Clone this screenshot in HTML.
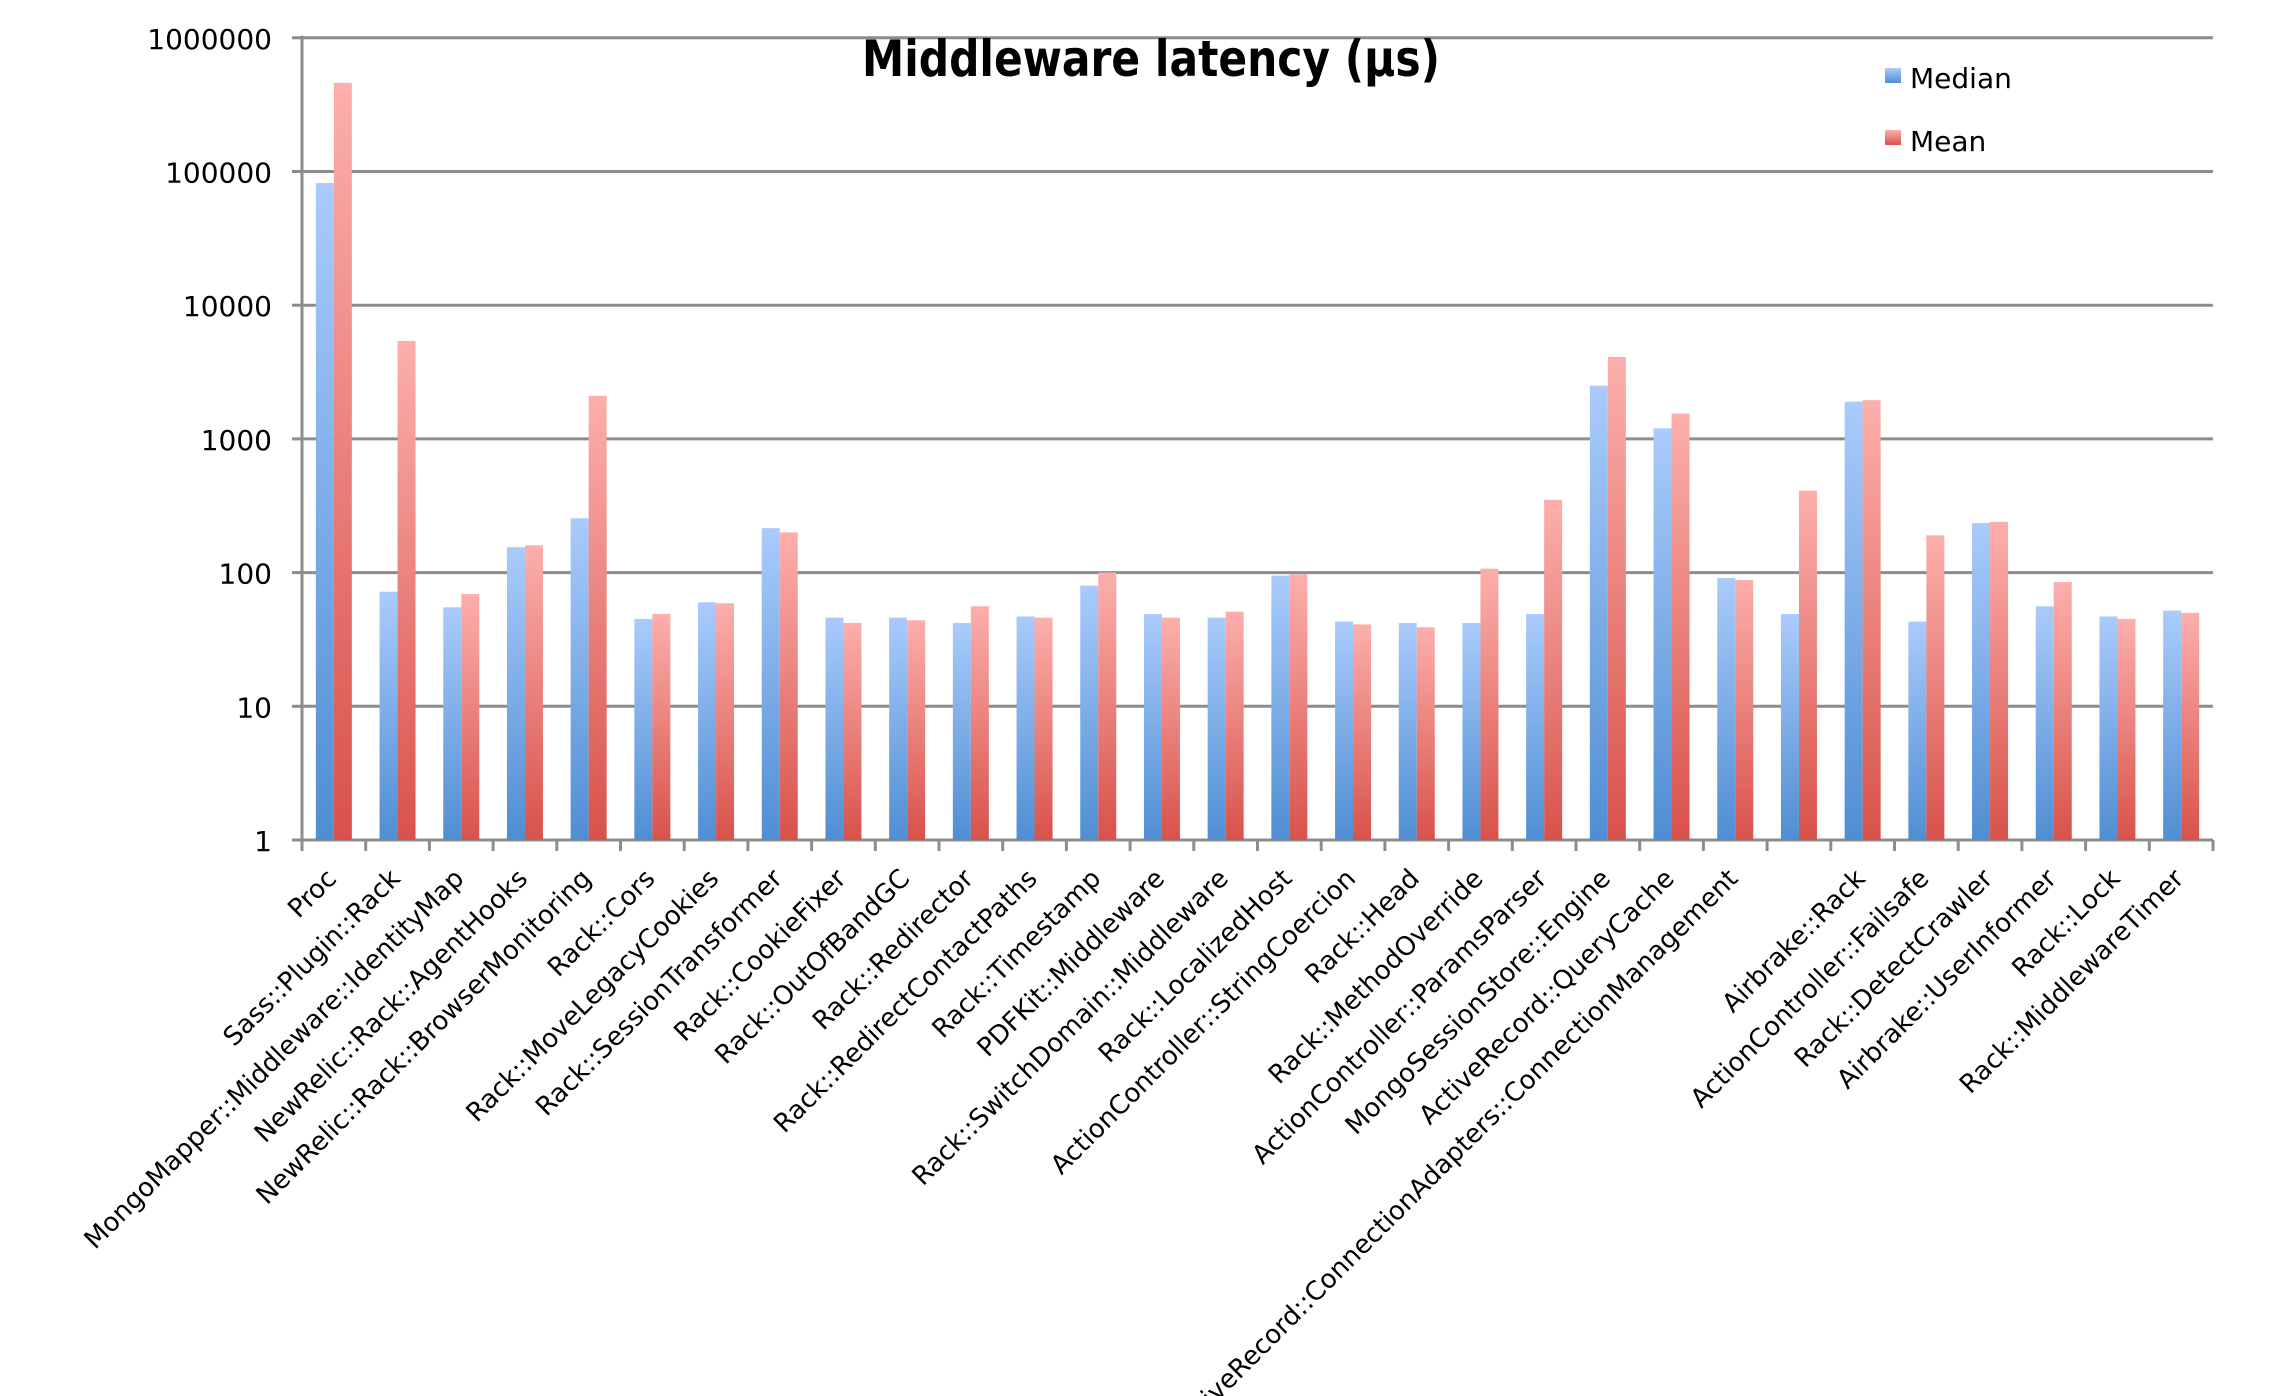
<!DOCTYPE html>
<html><head><meta charset="utf-8"><style>
html,body{margin:0;padding:0;background:#fff;}
svg{display:block;}
</style></head><body>
<svg id="c" width="2278" height="1396" xmlns="http://www.w3.org/2000/svg" font-family="'DejaVu Sans','Liberation Sans',sans-serif">
<defs>
<linearGradient id="gb" x1="0" y1="0" x2="0" y2="1"><stop offset="0" stop-color="#aacbfb"/><stop offset="1" stop-color="#4f8ed3"/></linearGradient>
<linearGradient id="gr" x1="0" y1="0" x2="0" y2="1"><stop offset="0" stop-color="#fcafac"/><stop offset="1" stop-color="#d8524b"/></linearGradient>
</defs>
<g id="grid"></g>
<g id="bars"></g>
<g id="labels" font-size="26" fill="#000"></g>
<text x="1151" y="76" font-size="50" font-weight="bold" text-anchor="middle" textLength="578" lengthAdjust="spacingAndGlyphs" font-family="'DejaVu Sans','Liberation Sans',sans-serif">Middleware latency (µs)</text>
<rect x="1885" y="68" width="16" height="15" fill="url(#gb)"/>
<text x="1910" y="88" font-size="28">Median</text>
<rect x="1885" y="130" width="16" height="15" fill="url(#gr)"/>
<text x="1910" y="151" font-size="28">Mean</text>
</svg>
<script>
var NS="http://www.w3.org/2000/svg";
function el(p,t,a,txt){var e=document.createElementNS(NS,t);for(var k in a)e.setAttribute(k,a[k]);if(txt!=null)e.textContent=txt;document.getElementById(p).appendChild(e);}
var L=302,R=2213,B=840,D=133.7;
function y(v){return B-D*Math.log10(v);}
var ticks=["1","10","100","1000","10000","100000","1000000"];
for(var i=0;i<7;i++){var yy=B-D*i;
 if(i>0)el("grid","line",{x1:L,x2:R,y1:yy,y2:yy,stroke:"#8c8c8c","stroke-width":3});
 el("grid","line",{x1:L-10,x2:L,y1:yy,y2:yy,stroke:"#8c8c8c","stroke-width":3});
 el("grid","text",{x:272,y:yy+11,"font-size":28,"text-anchor":"end"},ticks[i]);}
el("grid","line",{x1:L,x2:L,y1:B-D*6-2,y2:B+2,stroke:"#8c8c8c","stroke-width":3});
var data=[
["Proc",82000,460000],["Sass::Plugin::Rack",72,5400],["MongoMapper::Middleware::IdentityMap",55,69],
["NewRelic::Rack::AgentHooks",155,160],["NewRelic::Rack::BrowserMonitoring",255,2100],["Rack::Cors",45,49],
["Rack::MoveLegacyCookies",60,59],["Rack::SessionTransformer",215,200],["Rack::CookieFixer",46,42],
["Rack::OutOfBandGC",46,44],["Rack::Redirector",42,56],["Rack::RedirectContactPaths",47,46],
["Rack::Timestamp",80,100],["PDFKit::Middleware",49,46],["Rack::SwitchDomain::Middleware",46,51],
["Rack::LocalizedHost",95,97],["ActionController::StringCoercion",43,41],["Rack::Head",42,39],
["Rack::MethodOverride",42,107],["ActionController::ParamsParser",49,350],["MongoSessionStore::Engine",2500,4100],
["ActiveRecord::QueryCache",1200,1550],["ActiveRecord::ConnectionAdapters::ConnectionManagement",91,88],
["",49,410],["Airbrake::Rack",1900,1950],["ActionController::Failsafe",43,190],
["Rack::DetectCrawler",235,240],["Airbrake::UserInformer",56,85],["Rack::Lock",47,45],["Rack::MiddlewareTimer",52,50]];
var W=(R-L)/30;
el("grid","line",{x1:L,x2:R,y1:B,y2:B,stroke:"#8c8c8c","stroke-width":3});
for(var k=0;k<=30;k++){var xx=L+W*k;el("grid","line",{x1:xx,x2:xx,y1:B,y2:B+11,stroke:"#8c8c8c","stroke-width":3});}
for(var k=0;k<30;k++){var cx=L+W*(k+0.5),d=data[k];
 var yb=y(d[1]),yr=y(d[2]);
 el("bars","rect",{x:cx-18,y:yb,width:18,height:B-yb,fill:"url(#gb)"});
 el("bars","rect",{x:cx,y:yr,width:18,height:B-yr,fill:"url(#gr)"});
 if(d[0])el("labels","text",{x:cx+4,y:880,"text-anchor":"end",transform:"rotate(-45 "+(cx+4)+" 880)"},d[0]);}
</script>
</body></html>
